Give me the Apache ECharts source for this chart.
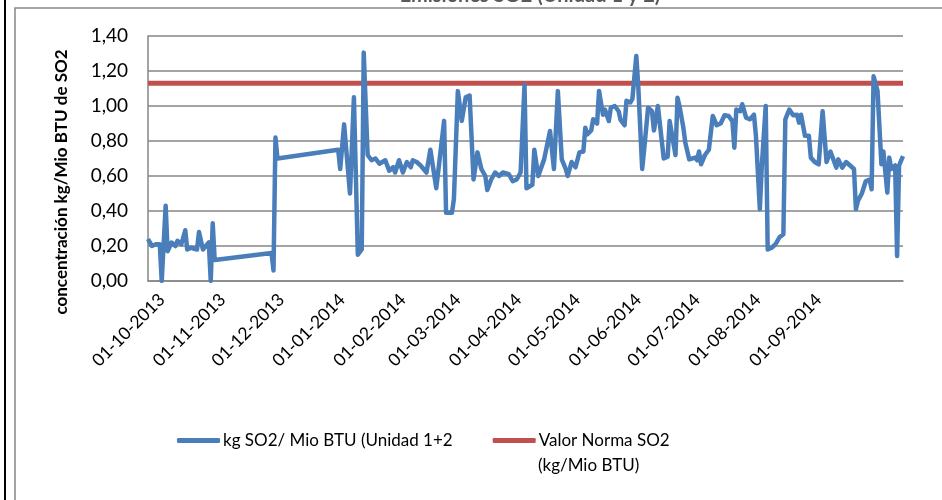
<!DOCTYPE html>
<html lang="es">
<head>
    <meta charset="UTF-8">
    <title>SO2</title>
    <style>
        html, body { margin: 0; padding: 0; background: #fff; }
    </style>
</head>
<body>
<div id="main" style="width: 942px;height:500px;"></div>
<script src="https://cdn.jsdelivr.net/npm/echarts@6/dist/echarts.min.js"></script>
<script>
    // fechas y valores (kg SO2 / Mio BTU, Unidad 1+2)
    var fechas = [
        '2013-09-29', '2013-10-01', '2013-10-03', '2013-10-05', '2013-10-06', '2013-10-08', '2013-10-09', '2013-10-11',
        '2013-10-13', '2013-10-14', '2013-10-16', '2013-10-18', '2013-10-19', '2013-10-21', '2013-10-24', '2013-10-25',
        '2013-10-27', '2013-10-30', '2013-10-31', '2013-11-01', '2013-11-02', '2013-12-01', '2013-12-02', '2013-12-03',
        '2013-12-04',
        '2014-01-04', '2014-01-05', '2014-01-07', '2014-01-10', '2014-01-12', '2014-01-14', '2014-01-16', '2014-01-17',
        '2014-01-19', '2014-01-21', '2014-01-23', '2014-01-25', '2014-01-28', '2014-01-30',
        '2014-02-01', '2014-02-02', '2014-02-04', '2014-02-06', '2014-02-08', '2014-02-10', '2014-02-11', '2014-02-13',
        '2014-02-15', '2014-02-18', '2014-02-20', '2014-02-23', '2014-02-24', '2014-02-27', '2014-02-28',
        '2014-03-03', '2014-03-04', '2014-03-06', '2014-03-08', '2014-03-10', '2014-03-12', '2014-03-14', '2014-03-16',
        '2014-03-18', '2014-03-20', '2014-03-21', '2014-03-23', '2014-03-25', '2014-03-27', '2014-03-29',
        '2014-04-01', '2014-04-03', '2014-04-05', '2014-04-07', '2014-04-09', '2014-04-10', '2014-04-13', '2014-04-14',
        '2014-04-16', '2014-04-19', '2014-04-22', '2014-04-24', '2014-04-26', '2014-04-28', '2014-04-30',
        '2014-05-01', '2014-05-03', '2014-05-05', '2014-05-07', '2014-05-09', '2014-05-10', '2014-05-11', '2014-05-13',
        '2014-05-14', '2014-05-16', '2014-05-17', '2014-05-19', '2014-05-20', '2014-05-22', '2014-05-23', '2014-05-25',
        '2014-05-27', '2014-05-28', '2014-05-30', '2014-05-31',
        '2014-06-02', '2014-06-03', '2014-06-05', '2014-06-06', '2014-06-08', '2014-06-09', '2014-06-11', '2014-06-13',
        '2014-06-14', '2014-06-16', '2014-06-19', '2014-06-21', '2014-06-22', '2014-06-23', '2014-06-25', '2014-06-26',
        '2014-06-27', '2014-06-29', '2014-06-30',
        '2014-07-02', '2014-07-03', '2014-07-05', '2014-07-06', '2014-07-07', '2014-07-08', '2014-07-10', '2014-07-12',
        '2014-07-13', '2014-07-14', '2014-07-16', '2014-07-18', '2014-07-20', '2014-07-22', '2014-07-24', '2014-07-25',
        '2014-07-26', '2014-07-28', '2014-07-29', '2014-07-31',
        '2014-08-02', '2014-08-04', '2014-08-05', '2014-08-07', '2014-08-08', '2014-08-10', '2014-08-11', '2014-08-13',
        '2014-08-15', '2014-08-17', '2014-08-19', '2014-08-20', '2014-08-22', '2014-08-24', '2014-08-26', '2014-08-27',
        '2014-08-28', '2014-08-30',
        '2014-09-01', '2014-09-02', '2014-09-04', '2014-09-06', '2014-09-08', '2014-09-10', '2014-09-12', '2014-09-13',
        '2014-09-15', '2014-09-16', '2014-09-18', '2014-09-20', '2014-09-22', '2014-09-24', '2014-09-25', '2014-09-26',
        '2014-09-28', '2014-09-30',
        '2014-10-02', '2014-10-03', '2014-10-04', '2014-10-06', '2014-10-08', '2014-10-09', '2014-10-11', '2014-10-12',
        '2014-10-13', '2014-10-15', '2014-10-16', '2014-10-17', '2014-10-19'
    ];
    var so2 = [
        0.24, 0.20, 0.21, 0.21, 0.00, 0.43, 0.17, 0.22,
        0.20, 0.23, 0.21, 0.29, 0.18, 0.19, 0.18, 0.28,
        0.18, 0.22, 0.00, 0.33, 0.12, 0.16, 0.06, 0.82,
        0.70,
        0.75, 0.64, 0.895, 0.50, 1.05, 0.15, 0.18, 1.305,
        0.72, 0.69, 0.70, 0.67, 0.69, 0.63,
        0.65, 0.62, 0.69, 0.62, 0.68, 0.65, 0.69, 0.68,
        0.66, 0.62, 0.75, 0.53, 0.54, 0.915, 0.39,
        0.39, 0.47, 1.085, 0.915, 1.05, 1.06, 0.58, 0.735,
        0.64, 0.60, 0.52, 0.58, 0.62, 0.60, 0.62,
        0.61, 0.57, 0.58, 0.62, 1.12, 0.53, 0.55, 0.75,
        0.60, 0.695, 0.857, 0.64, 1.085, 0.695, 0.64,
        0.60, 0.68, 0.65, 0.735, 0.74, 0.876, 0.838, 0.86,
        0.924, 0.90, 1.086, 0.95, 0.98, 0.914, 0.99, 1.00,
        0.97, 0.92, 0.89, 1.03,
        1.02, 1.04, 1.286, 1.114, 0.64, 0.75, 0.99, 0.97,
        0.86, 1.00, 0.70, 0.71, 0.914, 0.905, 0.72, 1.047,
        1.00, 0.876, 0.79,
        0.695, 0.69, 0.705, 0.69, 0.74, 0.667, 0.72, 0.75,
        0.75, 0.943, 0.89, 0.90, 0.947, 0.943, 0.914, 0.762,
        0.98, 0.97, 1.01, 0.933,
        0.924, 0.95, 0.83, 0.41, 0.657, 1.00, 0.18, 0.19,
        0.21, 0.25, 0.267, 0.924, 0.98, 0.947, 0.95, 0.905,
        0.95, 0.83,
        0.83, 0.705, 0.68, 0.667, 0.97, 0.68, 0.74, 0.75,
        0.648, 0.695, 0.648, 0.68, 0.66, 0.64, 0.41, 0.457,
        0.50, 0.57,
        0.58, 0.524, 1.17, 1.086, 0.667, 0.74, 0.505, 0.705,
        0.64, 0.66, 0.143, 0.66, 0.714
    ];
    var normaFechas = ['2013-09-29', '2014-10-19'];
    var normaSO2 = [1.13, 1.13];
    var nombres = ['kg SO2/ Mio BTU (Unidad 1+2', 'Valor Norma SO2'];
    // ultima etiqueta de fecha que aparece en el eje
    var ultimaEtiqueta = '2014-09-01';

    var chart = echarts.init(document.getElementById('main'));
    var fuente = 'Lato';

    function dos(n) { return n < 10 ? '0' + n : '' + n; }

    var serieSO2 = fechas.map(function (f, i) { return [f, so2[i]]; });
    var serieNorma = normaFechas.map(function (f, i) { return [f, normaSO2[i]]; });
    var limiteEtiqueta = echarts.time.parse(ultimaEtiqueta).getTime();

    var option = {
        backgroundColor: '#fff',
        animation: false,
        textStyle: { fontFamily: fuente },
        title: {
            text: 'Emisiones SO2 (Unidad 1 y 2)',
            left: 525,
            textAlign: 'center',
            top: -19,
            textStyle: { fontFamily: fuente, fontSize: 20, fontWeight: 'bold', color: '#595959' }
        },
        legend: {
            left: 172,
            top: 427,
            itemGap: 40,
            itemWidth: 43,
            itemHeight: 5,
            icon: 'roundRect',
            data: nombres,
            textStyle: { fontFamily: fuente, fontSize: 17, color: '#000', padding: [0, 0, 0, -2] }
        },
        grid: {
            left: 148,
            right: 39,
            top: 36,
            bottom: 219
        },
        xAxis: {
            type: 'time',
            min: normaFechas[0],
            max: normaFechas[1],
            splitNumber: 12,
            minInterval: 28 * 86400000,
            maxInterval: 31 * 86400000,
            axisLine: { lineStyle: { color: '#868686', width: 1.5 } },
            axisTick: { show: false },
            splitLine: { show: false },
            axisLabel: {
                rotate: 45,
                margin: 6,
                verticalAlign: 'top',
                padding: [5, 0, 0, 0],
                hideOverlap: false,
                showMinLabel: false,
                showMaxLabel: false,
                fontFamily: fuente,
                fontSize: 17.5,
                color: '#000',
                formatter: function (v) {
                    var d = new Date(v);
                    if (d.getDate() !== 1 || v > limiteEtiqueta) {
                        return '';
                    }
                    return dos(d.getDate()) + '-' + dos(d.getMonth() + 1) + '-' + d.getFullYear();
                }
            }
        },
        yAxis: {
            type: 'value',
            min: 0,
            max: 1.4,
            interval: 0.2,
            axisLine: { show: true, lineStyle: { color: '#868686', width: 1.5 } },
            axisTick: { show: false },
            splitLine: { lineStyle: { color: '#868686', width: 1.5 } },
            axisLabel: {
                margin: 20,
                fontFamily: fuente,
                fontSize: 19,
                color: '#000',
                formatter: function (v) { return v.toFixed(2).replace('.', ','); }
            }
        },
        graphic: [
            {
                type: 'line',
                shape: { x1: 5, y1: 0, x2: 5, y2: 500 },
                style: { stroke: '#000', lineWidth: 2 }
            },
            {
                type: 'rect',
                shape: { x: 15, y: 8, width: 1000, height: 1000 },
                style: { fill: null, stroke: '#868686', lineWidth: 1.5 }
            },
            {
                type: 'text',
                x: 62,
                y: 182,
                rotation: Math.PI / 2,
                style: {
                    text: 'concentración kg/Mio BTU de SO2',
                    fontFamily: fuente,
                    fontSize: 17,
                    fontWeight: 'bold',
                    fill: '#000',
                    align: 'center',
                    verticalAlign: 'middle'
                }
            },
            {
                type: 'text',
                x: 538,
                y: 466,
                style: {
                    text: '(kg/Mio BTU)',
                    fontFamily: fuente,
                    fontSize: 17,
                    fill: '#000',
                    align: 'left',
                    verticalAlign: 'middle'
                }
            }
        ],
        series: [
            {
                name: nombres[0],
                type: 'line',
                z: 3,
                showSymbol: false,
                color: '#4A7EBB',
                lineStyle: { width: 4.5, color: '#4A7EBB', join: 'round' },
                data: serieSO2
            },
            {
                name: nombres[1],
                type: 'line',
                z: 2,
                showSymbol: false,
                color: '#C0504D',
                lineStyle: { width: 5, color: '#C0504D' },
                data: serieNorma
            }
        ]
    };

    chart.setOption(option);
</script>
</body>
</html>
